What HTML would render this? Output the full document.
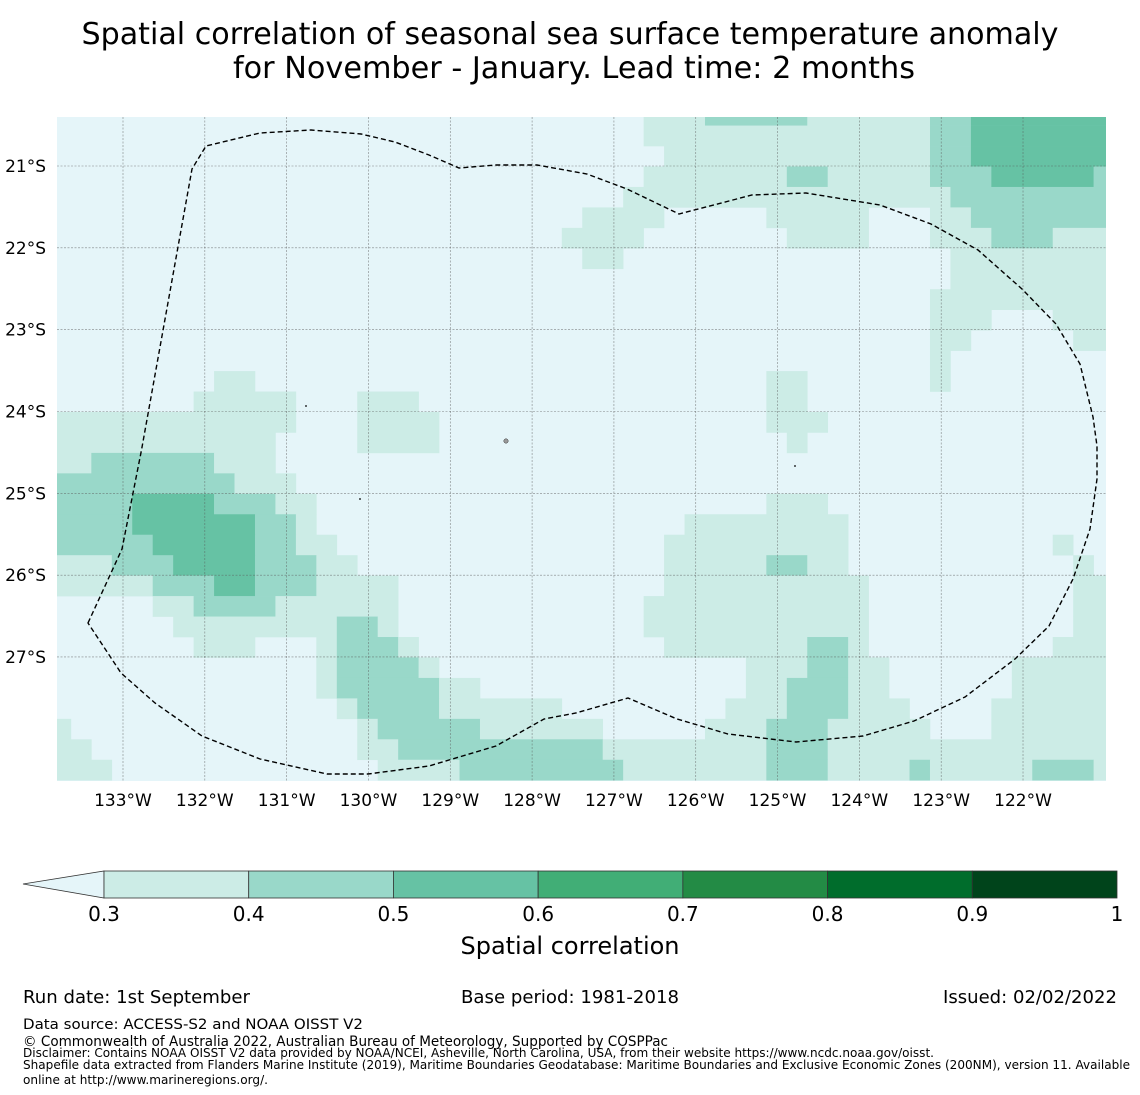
<!DOCTYPE html>
<html><head><meta charset="utf-8"><style>
html,body{margin:0;padding:0;background:#fff;}
svg{display:block;font-family:"DejaVu Sans","Liberation Sans",sans-serif;}
</style></head><body>
<svg id="chart" width="1140" height="1095" viewBox="0 0 1140 1095" xmlns="http://www.w3.org/2000/svg">
<text x="570" y="44" font-size="30" text-anchor="middle" textLength="977" lengthAdjust="spacingAndGlyphs">Spatial correlation of seasonal sea surface temperature anomaly</text>
<text x="574" y="78" font-size="30" text-anchor="middle" textLength="682" lengthAdjust="spacingAndGlyphs">for November - January. Lead time: 2 months</text>
<defs><clipPath id="mapclip"><rect x="57" y="117" width="1049" height="664"/></clipPath></defs>
<g id="map" clip-path="url(#mapclip)">
<rect x="57" y="117" width="1049" height="664" fill="#e5f5f9"/>
<g id="cells"></g>
<g id="grid"></g>
<path id="eez" fill="none" stroke="#000" stroke-width="1.4" stroke-dasharray="5,3"
d="M88,623 L122,549 L141.5,450 L192,169 L206,146 L260,133 L311,130 L361,134 L395,142 L429,155 L459,168 L496,165 L537,165 L587,174 L627,189 L679,214 L752,195 L806,193 L880,205 L931,224 L978,250 L1022,289 L1056,324 L1080,364 L1093,417 L1097,446 L1097,479 L1090,529 L1073,579 L1049,626 L1015,659 L965,697 L914,721 L863,736 L796,742 L728,734 L677,719 L628,698 L576,713 L544,719 L496,746 L429,766 L368,774 L327,774 L260,759 L202,736 L155,703 L121,673 Z"/>
<circle cx="506" cy="441" r="2.2" fill="#999" stroke="#333" stroke-width="0.5"/>
<circle cx="306" cy="406" r="0.9" fill="#000"/>
<circle cx="360" cy="499" r="0.9" fill="#000"/>
<circle cx="795" cy="466" r="0.9" fill="#000"/>
</g>
<g id="axes"></g>
<g id="colorbar"></g>
<text x="570" y="954" font-size="24" text-anchor="middle">Spatial correlation</text>
<text x="23" y="1003" font-size="18" textLength="227" lengthAdjust="spacingAndGlyphs">Run date: 1st September</text>
<text x="461" y="1003" font-size="18" textLength="218" lengthAdjust="spacingAndGlyphs">Base period: 1981-2018</text>
<text x="1117" y="1003" font-size="18" text-anchor="end" textLength="174" lengthAdjust="spacingAndGlyphs">Issued: 02/02/2022</text>
<text x="23" y="1029" font-size="14.5" textLength="340" lengthAdjust="spacingAndGlyphs">Data source: ACCESS-S2 and NOAA OISST V2</text>
<text x="23" y="1046" font-size="14" textLength="645" lengthAdjust="spacingAndGlyphs">© Commonwealth of Australia 2022, Australian Bureau of Meteorology, Supported by COSPPac</text>
<text x="23" y="1057" font-size="12" textLength="911" lengthAdjust="spacingAndGlyphs">Disclaimer: Contains NOAA OISST V2 data provided by NOAA/NCEI, Asheville, North Carolina, USA, from their website https://www.ncdc.noaa.gov/oisst.</text>
<text x="23" y="1069" font-size="12" textLength="1107" lengthAdjust="spacingAndGlyphs">Shapefile data extracted from Flanders Marine Institute (2019), Maritime Boundaries Geodatabase: Maritime Boundaries and Exclusive Economic Zones (200NM), version 11. Available</text>
<text x="23" y="1084" font-size="12" textLength="245" lengthAdjust="spacingAndGlyphs">online at http://www.marineregions.org/.</text>
</svg>
<script>
// ---- data ----
const lonTicks = [-133,-132,-131,-130,-129,-128,-127,-126,-125,-124,-123,-122];
const lonTickLabels = ["133°W","132°W","131°W","130°W","129°W","128°W","127°W","126°W","125°W","124°W","123°W","122°W"];
const latTicks = [-21,-22,-23,-24,-25,-26,-27];
const latTickLabels = ["21°S","22°S","23°S","24°S","25°S","26°S","27°S"];
const gridLon0 = -133.887;   // west edge of first column
const gridLat0 = -20.256;    // north edge of first row
const cellDeg = 0.25;
const levelEdges = [0.3,0.4,0.5,0.6,0.7,0.8,0.9,1.0];
const levelColors = ["#e5f5f9","#ccece6","#99d8c9","#66c2a4","#41ae76","#238b45","#006d2c","#00441b"];
const colorbarLabels = ["0.3","0.4","0.5","0.6","0.7","0.8","0.9","1"];
// correlation class per cell, run-length encoded "level x count" (rows north→south)
const gridRows = [
"0x29 1x3 2x5 1x6 2x2 3x7",
"0x29 1x14 2x2 3x7",
"0x30 1x13 2x2 3x7",
"0x29 1x7 2x2 1x5 2x3 3x5 2x1",
"0x28 1x16 2x8",
"0x26 1x4 0x5 1x5 0x3 1x2 2x7",
"0x25 1x4 0x7 1x4 0x3 1x3 2x3 1x3",
"0x26 1x2 0x16 1x8",
"0x44 1x8",
"0x43 1x9",
"0x43 1x3 0x3 1x3",
"0x43 1x2 0x5 1x2",
"0x43 1x1 0x8",
"0x8 1x2 0x25 1x2 0x6 1x1 0x8",
"0x7 1x5 0x3 1x3 0x17 1x2 0x15",
"1x12 0x3 1x4 0x16 1x3 0x14",
"1x11 0x4 1x4 0x17 1x1 0x15",
"1x2 2x6 1x3 0x41",
"2x9 1x3 0x40",
"2x4 3x4 2x3 1x2 0x22 1x3 0x14",
"2x4 3x6 2x2 1x1 0x18 1x8 0x13",
"2x5 3x5 2x2 1x2 0x16 1x9 0x10 1x1 0x2",
"1x3 2x3 3x4 2x3 1x2 0x15 1x5 2x2 1x2 0x11 1x1 0x1",
"1x5 2x3 3x2 2x3 1x4 0x13 1x10 0x10 1x2",
"0x5 1x2 2x4 1x6 0x12 1x11 0x10 1x2",
"0x6 1x8 2x2 1x1 0x12 1x11 0x10 1x2",
"0x7 1x3 0x3 1x1 2x3 1x1 0x12 1x7 2x2 1x1 0x9 1x3",
"0x13 1x1 2x4 1x1 0x15 1x3 2x2 1x2 0x6 1x5",
"0x13 1x1 2x5 1x2 0x13 1x2 2x3 1x2 0x6 1x5",
"0x14 1x1 2x4 1x6 0x8 1x3 2x3 1x3 0x4 1x6",
"1x1 0x14 1x1 2x5 1x6 0x5 1x3 2x3 1x5 0x3 1x6",
"1x2 0x13 1x2 2x10 1x8 2x3 1x14",
"1x3 0x13 1x4 2x8 1x7 2x3 1x4 2x1 1x5 2x3 1x1"
];
// ---- axis functions ----
function xOf(lon){ return 123 + (lon + 133) * 81.82; }
function yOf(lat){ return 166 + (-21 - lat) * 81.83; }
function cbX(v){ return 104 + (v - 0.3) / 0.7 * 1013; }
const NS="http://www.w3.org/2000/svg";
function mk(tag, attrs){ const e=document.createElementNS(NS,tag); for(const k in attrs) e.setAttribute(k,attrs[k]); return e; }

// cells
const cellsG=document.getElementById('cells');
gridRows.forEach((row,r)=>{
  let c=0;
  row.split(' ').forEach(tok=>{
    const [lv,n]=tok.split('x').map(Number);
    if(lv>0){
      const x0=xOf(gridLon0+c*cellDeg), x1=xOf(gridLon0+(c+n)*cellDeg);
      const y0=yOf(gridLat0-r*cellDeg), y1=yOf(gridLat0-(r+1)*cellDeg);
      const rect=mk('rect',{x:x0,y:y0,width:x1-x0+0.3,height:y1-y0+0.3,fill:levelColors[lv]});
      
      
      cellsG.appendChild(rect);
    }
    c+=n;
  });
});
// gridlines + labels
const gridG=document.getElementById('grid'), axesG=document.getElementById('axes');
lonTicks.forEach((lon,i)=>{
  const x=xOf(lon);
  const l=mk('line',{x1:x,x2:x,y1:117,y2:781,stroke:'#555','stroke-width':0.6,'stroke-dasharray':'2,1.5','stroke-opacity':0.7});
  
  
  gridG.appendChild(l);
  const t=mk('text',{x:x,y:806,'font-size':17,'text-anchor':'middle'});
  
  
  t.textContent=lonTickLabels[i];
  axesG.appendChild(t);
});
latTicks.forEach((lat,i)=>{
  const y=yOf(lat);
  const l=mk('line',{x1:57,x2:1106,y1:y,y2:y,stroke:'#555','stroke-width':0.6,'stroke-dasharray':'2,1.5','stroke-opacity':0.7});
  
  
  gridG.appendChild(l);
  const t=mk('text',{x:46,y:y+6,'font-size':17,'text-anchor':'end'});
  
  
  t.textContent=latTickLabels[i];
  axesG.appendChild(t);
});
// colorbar
const cb=document.getElementById('colorbar');
const tri=mk('polygon',{points:'23,884 104,871 104,898',fill:levelColors[0],stroke:'#333','stroke-width':0.8});


cb.appendChild(tri);
for(let i=0;i<levelEdges.length-1;i++){
  const x0=cbX(levelEdges[i]), x1=cbX(levelEdges[i+1]);
  const r=mk('rect',{x:x0,y:871,width:x1-x0,height:27,fill:levelColors[i+1],stroke:'#333','stroke-width':0.8});
  
  
  cb.appendChild(r);
}
levelEdges.forEach((v,i)=>{
  const t=mk('text',{x:cbX(v),y:921,'font-size':20,'text-anchor':'middle'});
  
  
  t.textContent=colorbarLabels[i];
  cb.appendChild(t);
});
</script>
</body></html>
